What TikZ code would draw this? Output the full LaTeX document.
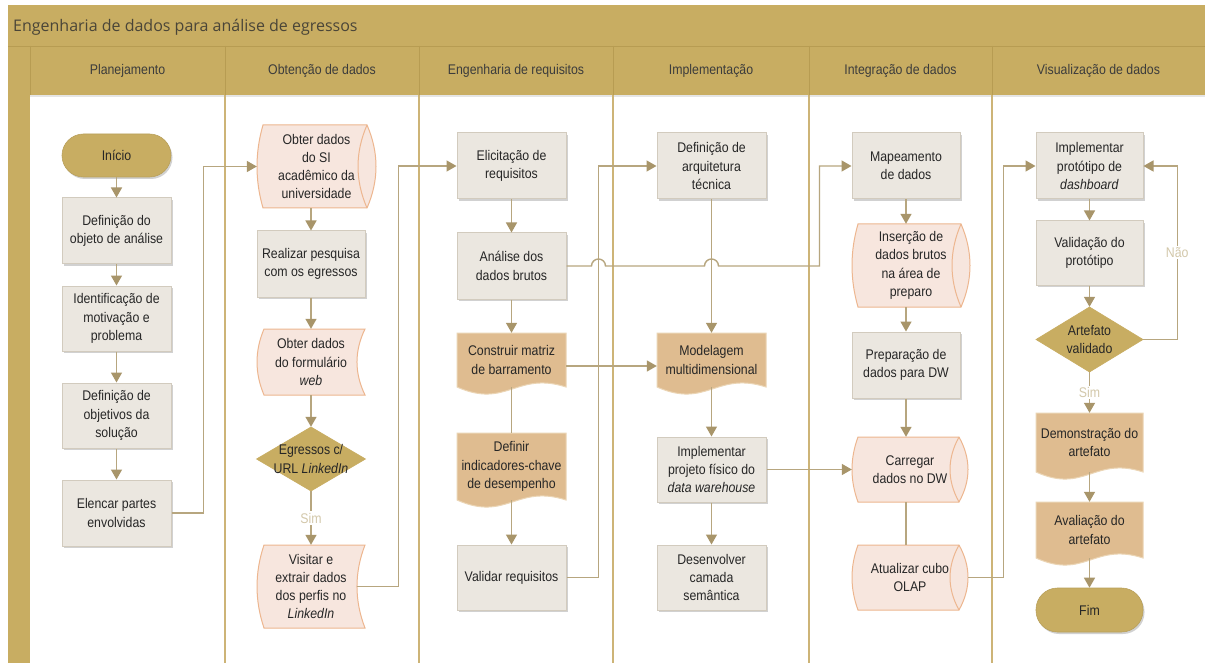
\documentclass[tikz,border=0pt]{standalone}
\usepackage{fontspec}
\setmainfont{Liberation Sans}[FakeStretch=0.88]
\newfontfamily\titlefont{Open Sans}
\usetikzlibrary{arrows.meta,shadows,calc}
\definecolor{gold}{HTML}{C8AD62}
\definecolor{goldline}{HTML}{B79C52}
\definecolor{lanecol}{HTML}{CDB477}
\definecolor{procfill}{HTML}{EBE7E0}
\definecolor{procdraw}{HTML}{D2CBBE}
\definecolor{pinkfill}{HTML}{F7E6DE}
\definecolor{pinkdraw}{HTML}{EDB68F}
\definecolor{tanfill}{HTML}{DFBC90}
\definecolor{tandraw}{HTML}{EBD5B5}
\definecolor{conncol}{HTML}{B7A67F}
\definecolor{arrowcol}{HTML}{A8956A}
\definecolor{lblcol}{HTML}{D3C8AA}
\definecolor{txtcol}{HTML}{262626}
\definecolor{titlecol}{HTML}{4A4538}
\newcommand\boxtext{\fontsize{14}{18.3}\selectfont}
% stored data shape: name x0 y0 x1 y1 text
\newcommand\SDnode[6]{%
  \path[sdsty] ({#2+7},#3) -- (#4,#3)
    .. controls ({#4-10.7},{#3+(#5-#3)/3}) and ({#4-10.7},{#5-(#5-#3)/3}) .. (#4,#5)
    -- ({#2+7},#5)
    .. controls ({#2-2.3},{#5-(#5-#3)/3}) and ({#2-2.3},{#3+(#5-#3)/3}) .. ({#2+7},#3) -- cycle;
  \node[txtnode,minimum width={#4-#2},minimum height={#5-#3}] (#1) at ({(#2+#4)/2},{(#3+#5)/2}) {#6};}
% horizontal cylinder: name x0 y0 x1 y1 text
\newcommand\CYLnode[6]{%
  \path[sdsty] ({#2+6},#3) -- ({#4-9},#3)
    .. controls ({#4+3},{#3+(#5-#3)/3}) and ({#4+3},{#5-(#5-#3)/3}) .. ({#4-9},#5)
    -- ({#2+6},#5)
    .. controls ({#2-2},{#5-(#5-#3)/3}) and ({#2-2},{#3+(#5-#3)/3}) .. ({#2+6},#3) -- cycle;
  \draw[cylline] ({#4-9},#3) .. controls ({#4-21},{#3+(#5-#3)/3}) and ({#4-21},{#5-(#5-#3)/3}) .. ({#4-9},#5);
  \node[txtnode,minimum width={#4-#2},minimum height={#5-#3}] (#1) at ({(#2+#4)/2},{(#3+#5)/2}) {#6};}
% document: name x0 y0 x1 ybottom text
\newcommand\DOCnode[6]{%
  \path[docsty] (#2,#3) -- (#4,#3) -- (#4,#5)
    .. controls ({(#2+#4)/2+5},{#5-16}) and ({(#2+#4)/2-5},{#5+22}) .. (#2,#5) -- cycle;
  \node[txtnode,minimum width={#4-#2},minimum height={#5-#3}] (#1) at ({(#2+#4)/2},{(#3+#5)/2}) {#6};}
% decision: name cx cy w h text
\newcommand\DIAnode[6]{%
  \path[diasty] ({#2-#4/2},#3) -- (#2,{#3-#5/2}) -- ({#2+#4/2},#3) -- (#2,{#3+#5/2}) -- cycle;
  \node[txtnode,minimum width=#4,minimum height=#5] (#1) at (#2,#3) {#6};}
\begin{document}
\begin{tikzpicture}[x=1pt,y=-1pt,
  txtnode/.style={inner sep=0pt, align=center, font=\boxtext, text=txtcol},
  hdr/.style={inner sep=0pt, font=\boxtext, text=txtcol!90},
  proc/.style={txtnode, rectangle, draw=procdraw, fill=procfill, line width=1pt,
    minimum width=109, minimum height=66,
    drop shadow={shadow xshift=1.5pt, shadow yshift=-2pt, fill=black, opacity=.18}},
  term/.style={txtnode, rectangle, rounded corners=21.5pt, fill=gold, draw=gold!92!black,
    line width=.6pt, minimum width=109, minimum height=43,
    drop shadow={shadow xshift=1.5pt, shadow yshift=-2pt, fill=black, opacity=.18}},
  sdsty/.style={fill=pinkfill, draw=pinkdraw, line width=1pt},
  cylline/.style={draw=pinkdraw, line width=1pt},
  docsty/.style={fill=tanfill, draw=tandraw, line width=1pt},
  diasty/.style={fill=gold, draw=gold, line width=.6pt},
  conn/.style={draw=conncol, line width=1.4pt},
  arr/.style={conn, -{Triangle[width=11pt,length=10pt,color=arrowcol]}},
  lbl/.style={font=\boxtext, text=lblcol, fill=white, inner sep=1.5pt}]
\useasboundingbox (0,0) rectangle (1205,663);
\fill[white] (0,0) rectangle (1205,663);
% pool frame and header
\fill[gold] (8,5) rectangle (1205,95);
\fill[gold] (8,95) rectangle (30,663);
\fill[black!10] (30,95) rectangle (1205,97.5);
\draw[goldline, line width=.8pt] (8,46) -- (1205,46);
\foreach \lx in {30,225,419,613,809,992} {\draw[goldline, line width=.8pt] (\lx,46) -- (\lx,95);}
\foreach \lx in {225,419,613,809,992} {\draw[lanecol, line width=2pt] (\lx,95) -- (\lx,663);}
\node[anchor=west, inner sep=0pt, font=\titlefont\fontsize{16}{19}\selectfont, text=titlecol] (title) at (13,27) {Engenharia de dados para análise de egressos};
\node[hdr] (h1) at (127.5,71) {Planejamento};
\node[hdr] (h2) at (322,71) {Obtenção de dados};
\node[hdr] (h3) at (516,71) {Engenharia de requisitos};
\node[hdr] (h4) at (711,71) {Implementação};
\node[hdr] (h5) at (900.5,71) {Integração de dados};
\node[hdr] (h6) at (1098.5,71) {Visualização de dados};
% lane 1
\node[term] (inicio) at (116.5,155.5) {Início};
\node[proc] (def1) at (116.5,231) {Definição do\\objeto de análise};
\node[proc,minimum height=65] (ident) at (116.5,318.5) {Identificação de\\motivação e\\problema};
\node[proc,minimum height=65] (defobj) at (116.5,415.5) {Definição de\\objetivos da\\solução};
\node[proc] (elencar) at (116.5,513) {Elencar partes\\envolvidas};
% lane 2
\CYLnode{obter}{257}{125}{376}{208}{Obter dados\\do SI\\acadêmico da\\universidade}
\node[proc,minimum width=108] (realizar) at (311,264) {Realizar pesquisa\\com os egressos};
\SDnode{formulario}{257}{329}{365}{395}{Obter dados\\do formulário\\\textit{web}}
\DIAnode{egressos}{311}{459}{109}{64}{Egressos c/\\URL \textit{LinkedIn}}
\SDnode{visitar}{257}{545}{365}{628}{Visitar e\\extrair dados\\dos perfis no\\\textit{LinkedIn}}
% lane 3
\node[proc] (elicit) at (511.5,166) {Elicitação de\\requisitos};
\node[proc] (analise) at (511.5,266) {Análise dos\\dados brutos};
\DOCnode{construir}{457}{333}{566}{387}{Construir matriz\\de barramento}
\DOCnode{definir}{457}{433}{566}{500}{Definir\\indicadores-chave\\de desempenho}
\node[proc,minimum height=65] (validar) at (511.5,577.5) {Validar requisitos};
% lane 4
\node[proc] (defarq) at (711.5,166) {Definição de\\arquitetura\\técnica};
\DOCnode{modelagem}{657}{333}{766}{387}{Modelagem\\multidimensional}
\node[proc,minimum height=65] (implproj) at (711.5,469.5) {Implementar\\projeto físico do\\\textit{data warehouse}};
\node[proc,minimum height=65] (desenv) at (711.5,577.5) {Desenvolver\\camada\\semântica};
% lane 5
\node[proc,minimum width=108] (mapeamento) at (906,166) {Mapeamento\\de dados};
\CYLnode{insercao}{852}{224}{970}{307}{Inserção de\\dados brutos\\na área de\\preparo}
\node[proc,minimum width=108] (preparacao) at (906,365) {Preparação de\\dados para DW};
\CYLnode{carregar}{852}{437}{968}{502}{Carregar\\dados no DW}
\CYLnode{atualizar}{852}{545}{968}{610}{Atualizar cubo\\OLAP}
% lane 6
\node[proc,minimum width=107] (implproto) at (1089.5,166) {Implementar\\protótipo de\\\textit{dashboard}};
\node[proc,minimum width=107,minimum height=64] (validacao) at (1089.5,253) {Validação do\\protótipo};
\DIAnode{artefato}{1089.5}{339.5}{107}{65}{Artefato\\validado}
\DOCnode{demonstracao}{1036}{413}{1143}{472}{Demonstração do\\artefato}
\DOCnode{avaliacao}{1036}{502}{1143}{558}{Avaliação do\\artefato}
\node[term,minimum width=107,minimum height=44] (fim) at (1089.5,610) {Fim};
% connectors
\draw[arr] (inicio.south) -- (def1.north);
\draw[arr] (def1.south) -- (ident.north);
\draw[arr] (ident.south) -- (defobj.north);
\draw[arr] (defobj.south) -- (elencar.north);
\draw[arr] (elencar.east) -- ++(32,0) |- (obter.west);
\draw[arr] (realizar.north |- obter.south) -- (realizar.north);
\draw[arr] (realizar.south) -- (formulario.north);
\draw[arr] (formulario.south) -- (egressos.north);
\draw[arr] (egressos.south) -- node[lbl]{Sim} (visitar.north);
\draw[arr] ([xshift=-8pt]visitar.east) -- ++(41,0) |- (elicit.west);
\draw[arr] (elicit.south) -- (analise.north);
\draw[arr] (analise.south) -- (construir.north);
\draw[conn] (construir.south) -- (definir.north);
\draw[arr] (definir.south) -- (validar.north);
\draw[arr] (validar.east) -- ++(32,0) |- (defarq.west);
\draw[arr] ([yshift=-6pt]construir.east) -- ([yshift=-6pt]modelagem.west);
\draw[arr] (defarq.south) -- (modelagem.north);
\draw[arr] (modelagem.south) -- (implproj.north);
\draw[arr] (implproj.south) -- (desenv.north);
\draw[arr] (implproj.east) -- (carregar.west);
\draw[arr] (analise.east) -- ++(25,0) arc[start angle=180,end angle=0,radius=7pt]
  -- ++(99,0) arc[start angle=180,end angle=0,radius=7pt] -- ++(101,0) |- (mapeamento.west);
\draw[arr] (mapeamento.south) -- (mapeamento.south |- insercao.north);
\draw[arr] (preparacao.north |- insercao.south) -- (preparacao.north);
\draw[arr] (preparacao.south) -- (preparacao.south |- carregar.north);
\draw[conn] (preparacao.south |- carregar.south) -- (preparacao.south |- atualizar.north);
\draw[arr] (atualizar.east) -- ++(35,0) |- (implproto.west);
\draw[arr] (implproto.south) -- (validacao.north);
\draw[arr] (validacao.south) -- (artefato.north);
\draw[arr] (artefato.east) -- ++(34,0) |- node[pos=.25,lbl]{Não} (implproto.east);
\draw[arr] (artefato.south) -- node[lbl]{Sim} (demonstracao.north);
\draw[arr] (demonstracao.south) -- (avaliacao.north);
\draw[arr] (avaliacao.south) -- (fim.north);
\end{tikzpicture}
\end{document}
